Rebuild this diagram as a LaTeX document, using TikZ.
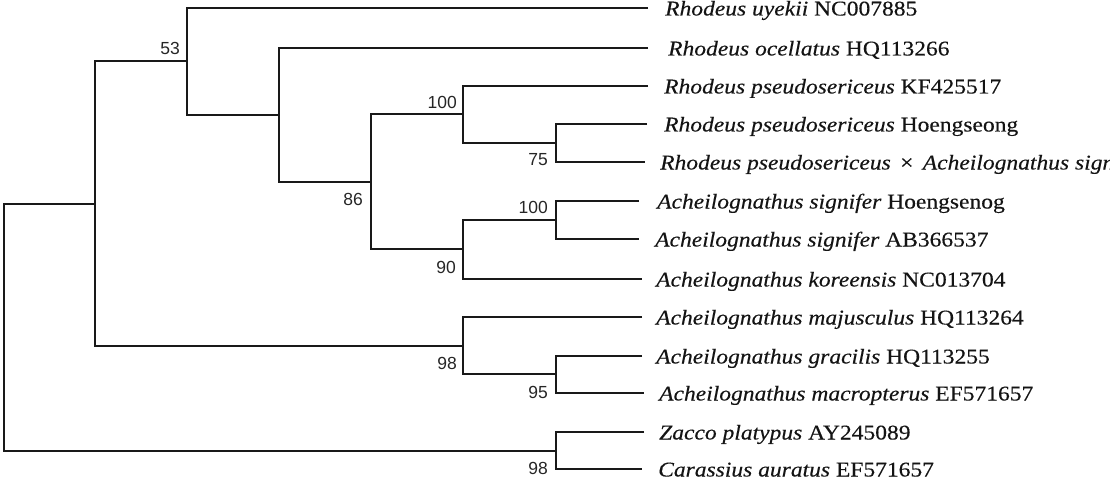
\documentclass[tikz,border=0pt]{standalone}
\usepackage{fontspec}
\setmainfont{Liberation Serif}[FakeStretch=1.12,FakeBold=0.3]
\newfontfamily\labfont{Liberation Sans}
\begin{document}
\begin{tikzpicture}[x=1pt,y=-1pt,
  br/.style={line width=2.2pt, draw=black!90, line join=miter},
  taxon/.style={anchor=base west, inner sep=0pt, font=\fontsize{21}{24}\selectfont, yshift=-7.5pt, text=black!92},
  boot/.style={anchor=east, inner sep=0pt, font=\labfont\fontsize{17.5}{19}\selectfont, text=black!85}]
\useasboundingbox (0,0) rectangle (1110,484);
\clip (0,0) rectangle (1110,484);
% leaf tips
\coordinate (l1) at (648,8);
\coordinate (l2) at (648,48);
\coordinate (l3) at (648,86);
\coordinate (l4) at (647,124);
\coordinate (l5) at (645,162);
\coordinate (l6) at (639,201);
\coordinate (l7) at (639,239);
\coordinate (l8) at (642,279);
\coordinate (l9) at (642,317);
\coordinate (l10) at (642,356);
\coordinate (l11) at (644,393);
\coordinate (l12) at (644,432);
\coordinate (l13) at (642,469);
% internal nodes
\coordinate (R) at (4,327);
\coordinate (A) at (95,204);
\coordinate (B) at (187,61);
\coordinate (C) at (279,115);
\coordinate (D) at (371,182);
\coordinate (E) at (463,114);
\coordinate (G) at (556,143);
\coordinate (F) at (463,249);
\coordinate (H) at (556,220);
\coordinate (M) at (463,346);
\coordinate (K) at (556,374);
\coordinate (Z) at (556,451);
% branches
\draw[br] (A) -| (R) |- (Z);
\draw[br] (B) -| (A) |- (M);
\draw[br] (l1) -| (B) |- (C);
\draw[br] (l2) -| (C) |- (D);
\draw[br] (E) -| (D) |- (F);
\draw[br] (l3) -| (E) |- (G);
\draw[br] (l4) -| (G) |- (l5);
\draw[br] (H) -| (F) |- (l8);
\draw[br] (l6) -| (H) |- (l7);
\draw[br] (l9) -| (M) |- (K);
\draw[br] (l10) -| (K) |- (l11);
\draw[br] (l12) -| (Z) |- (l13);
% taxa
\node[taxon] (t1) at (665,8) {\textit{Rhodeus uyekii} NC007885};
\node[taxon] (t2) at (668,48) {\textit{Rhodeus ocellatus} HQ113266};
\node[taxon] (t3) at (664,86) {\textit{Rhodeus pseudosericeus} KF425517};
\node[taxon] (t4) at (664,124) {\textit{Rhodeus pseudosericeus} Hoengseong};
\node[taxon] (t5) at (660,162) {\textit{Rhodeus pseudosericeus} \,×\, \textit{Acheilognathus signifer}};
\node[taxon] (t6) at (657,201) {\textit{Acheilognathus signifer} Hoengsenog};
\node[taxon] (t7) at (655,239) {\textit{Acheilognathus signifer} AB366537};
\node[taxon] (t8) at (656,279) {\textit{Acheilognathus koreensis} NC013704};
\node[taxon] (t9) at (656,317) {\textit{Acheilognathus majusculus} HQ113264};
\node[taxon] (t10) at (656,356) {\textit{Acheilognathus gracilis} HQ113255};
\node[taxon] (t11) at (659,393) {\textit{Acheilognathus macropterus} EF571657};
\node[taxon] (t12) at (659,432) {\textit{Zacco platypus} AY245089};
\node[taxon] (t13) at (658,469) {\textit{Carassius auratus} EF571657};
% bootstrap values
\node[boot] (b53) at (180,48) {53};
\node[boot] (b86) at (363,199) {86};
\node[boot] (b100a) at (457,102) {100};
\node[boot] (b75) at (548,160) {75};
\node[boot] (b100b) at (548,207) {100};
\node[boot] (b90) at (456,267) {90};
\node[boot] (b98a) at (457,363) {98};
\node[boot] (b95) at (548,392) {95};
\node[boot] (b98b) at (548,468) {98};
\end{tikzpicture}
\end{document}
